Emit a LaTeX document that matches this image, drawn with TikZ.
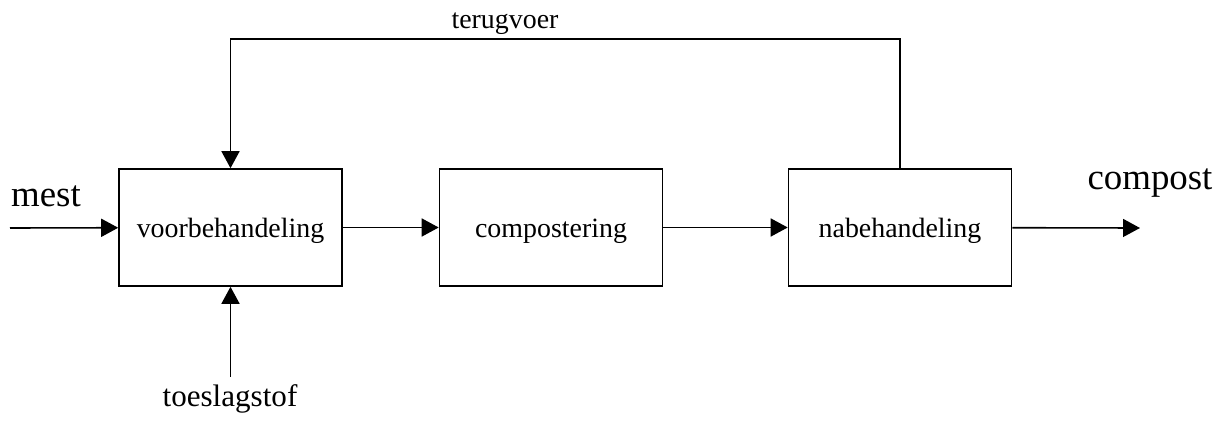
\documentclass[tikz,border=0pt]{standalone}
\usepackage{fontspec}
\setmainfont{Liberation Serif}
\usetikzlibrary{arrows.meta}
\tikzset{
  stap/.style={draw, line width=0.8bp, minimum width=111.5bp, minimum height=58.5bp, inner sep=0pt, text height=13.5bp, text depth=3bp, font=\fontsize{14}{16}\selectfont},
  pijl/.style={line width=0.8bp, -{Triangle[length=8.5bp,width=9bp]}},
  groot/.style={font=\fontsize{18.5}{20}\selectfont, anchor=base, inner sep=0pt},
  klein/.style={font=\fontsize{14}{16}\selectfont, anchor=base, inner sep=0pt}
}
\begin{document}
\begin{tikzpicture}[x=0.5bp, y=-0.5bp]
    \useasboundingbox (0,0) rectangle (1223,423);
    \node[stap] (voor) at (230.5,227.5) {voorbehandeling};
    \node[stap] (comp) at (551,227.5) {compostering};
    \node[stap] (na) at (900,227.5) {nabehandeling};
    \coordinate (in) at (10,228);
    \coordinate (uit) at (1140,228);
    \coordinate (toe) at (230.5,377);
    \coordinate (terug) at (900,39);
    \node[groot] (mest) at (46,207) {mest};
    \node[groot] (compost) at (1150,190) {compost};
    \node[groot, font=\fontsize{15.6}{18}\selectfont] (toeslag) at (230,407) {toeslagstof};
    \node[klein] (terugvoer) at (505,29) {terugvoer};
    \draw[pijl] (in) -- (voor);
    \draw[pijl] (voor) -- (comp);
    \draw[pijl] (comp) -- (na);
    \draw[pijl] (na) -- (uit);
    \draw[pijl] (toe) -- (voor);
    \draw[pijl] (na.north) -- (terug) -| (voor.north);
\end{tikzpicture}
\end{document}
